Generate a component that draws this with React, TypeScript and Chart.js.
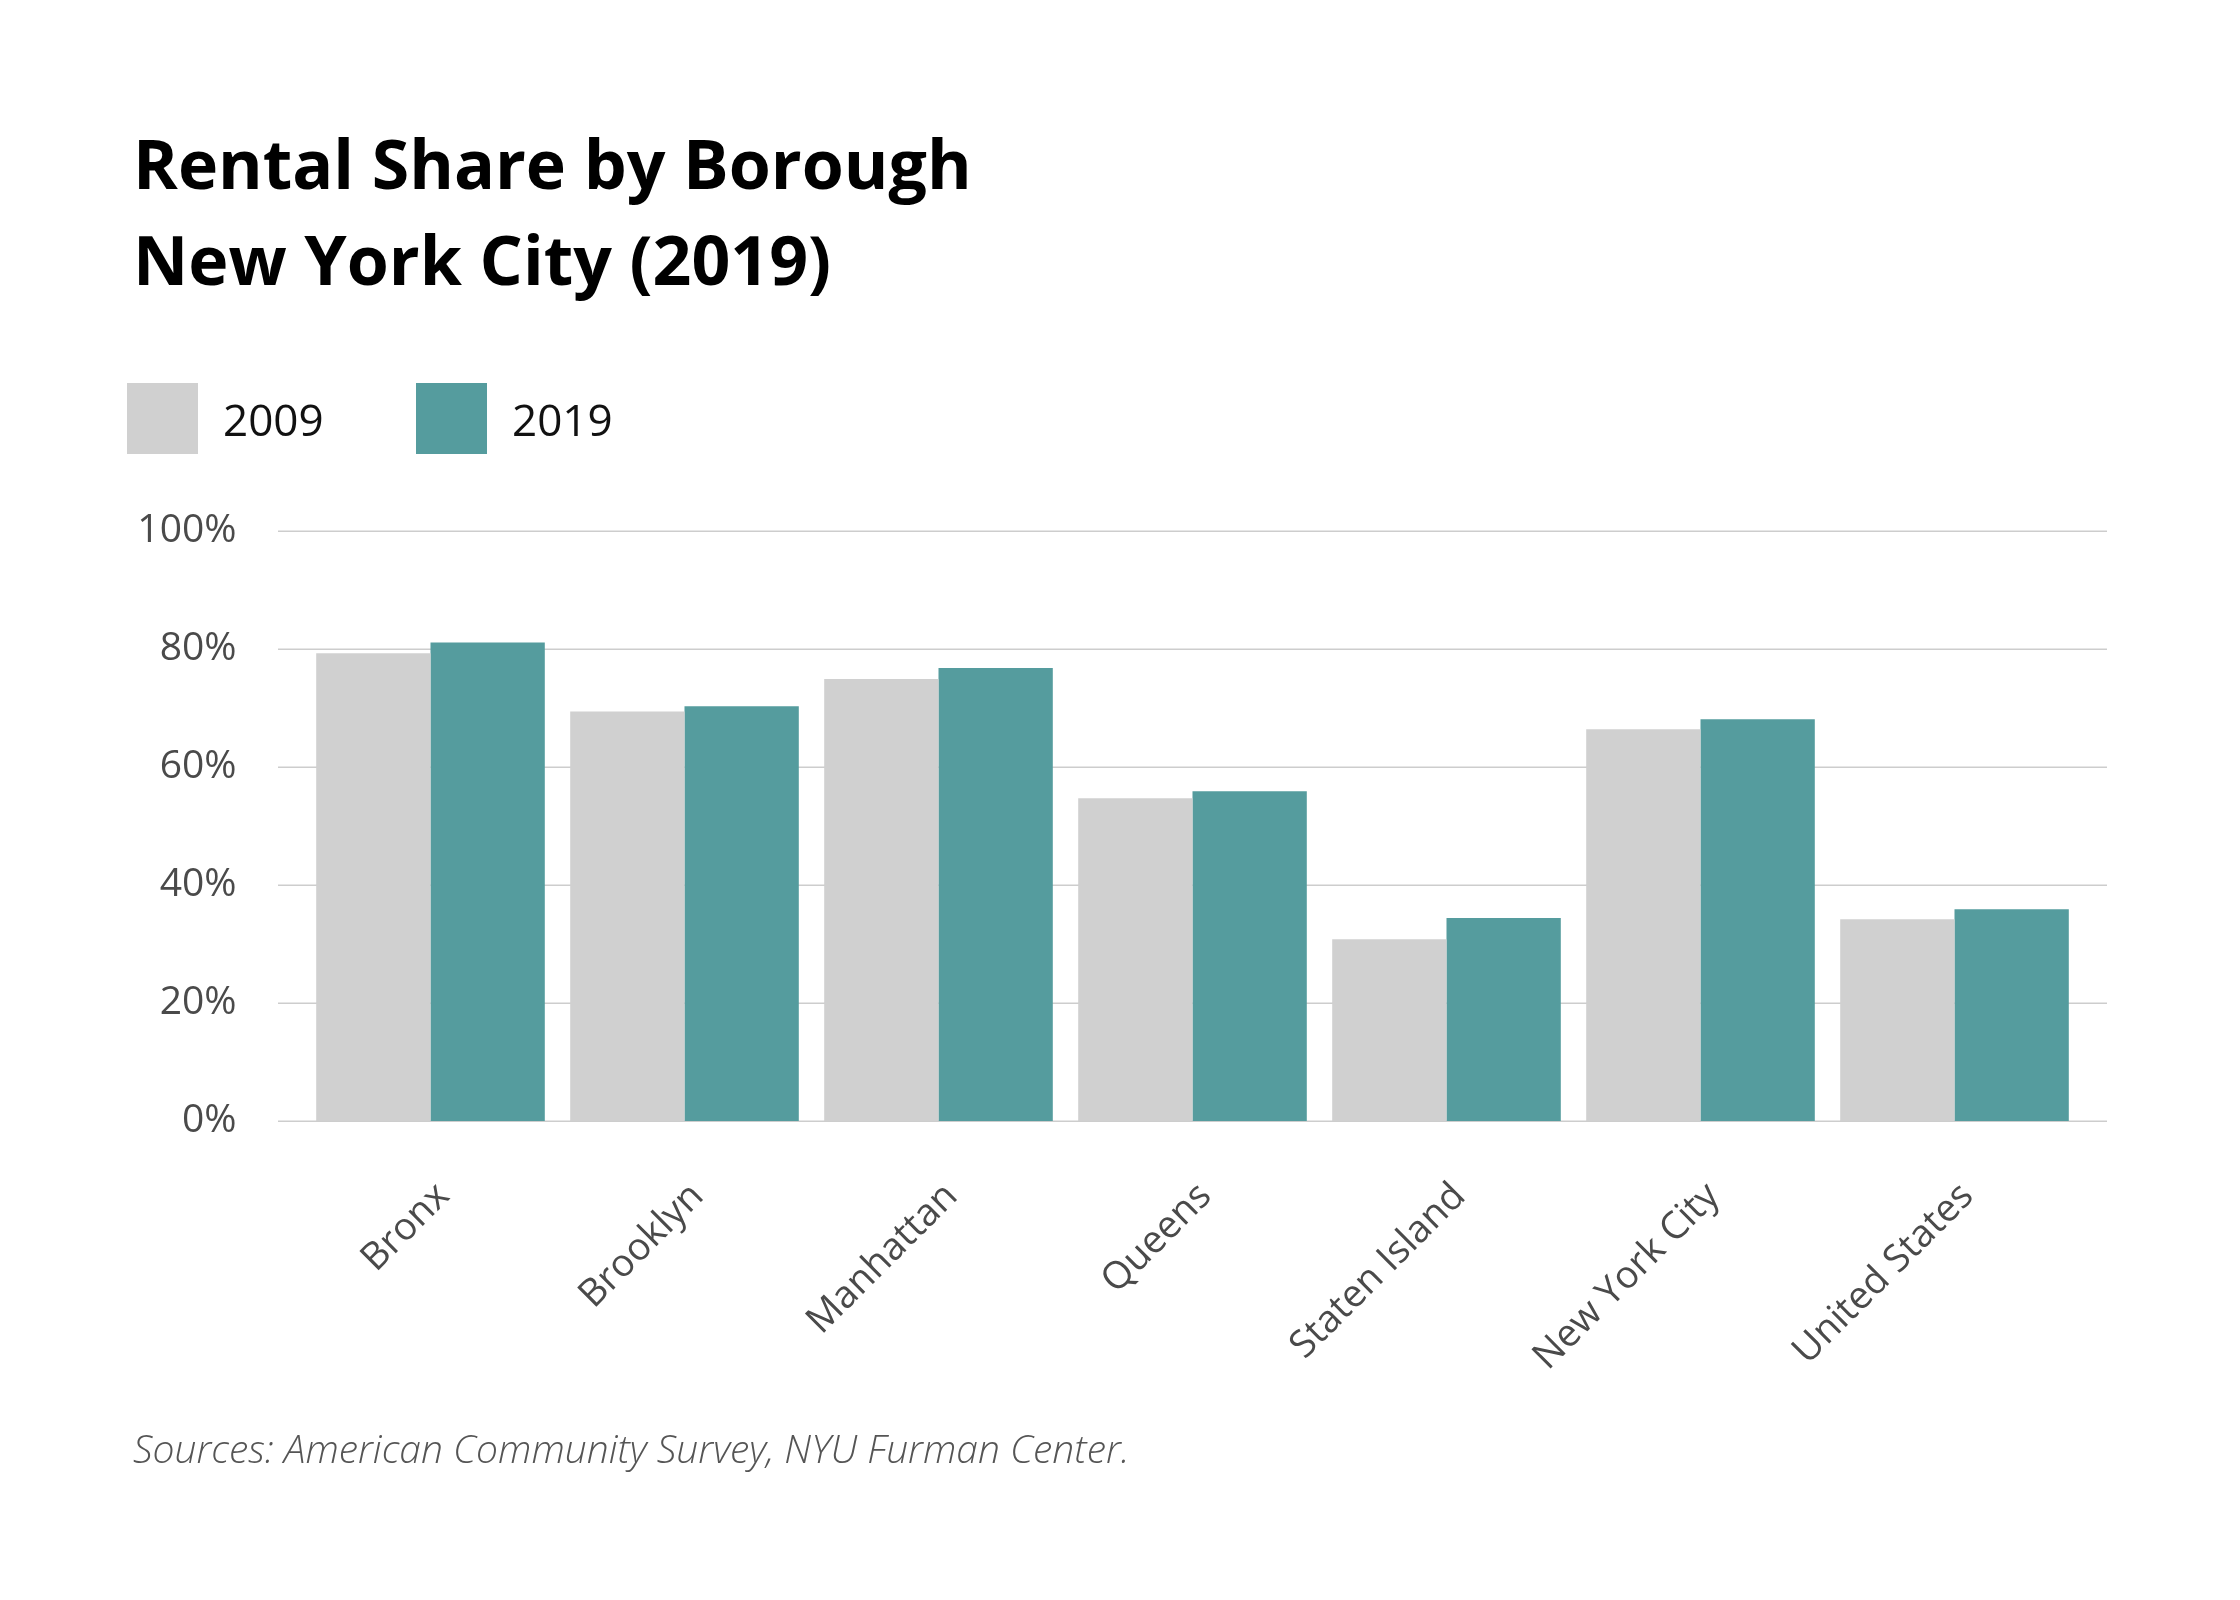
import React, { useEffect, useRef } from "react";
import { Chart, registerables } from "chart.js";

Chart.register(...registerables);

const categories = ["Bronx", "Brooklyn", "Manhattan", "Queens", "Staten Island", "New York City", "United States"];
const series2009 = [79.3, 69.4, 74.9, 54.7, 30.8, 66.4, 34.2];
const series2019 = [81.1, 70.3, 76.8, 55.9, 34.4, 68.1, 35.9];
const seriesLabels = ["2009", "2019"];
const seriesColors = ["#d0d0d0", "#559c9e"];
const yTicks = [0, 20, 40, 60, 80, 100];
const titleLines = ["Rental Share by Borough", "New York City (2019)"];
const sourceText = "Sources: American Community Survey, NYU Furman Center.";

const W = 2240;
const H = 1600;
const FONT = "'Open Sans', 'Noto Sans', sans-serif";

const decorPlugin = {
  id: "decor",
  beforeDatasetsDraw(chart: any) {
    const { ctx, chartArea, scales } = chart;
    const y = scales.y;
    ctx.save();
    ctx.strokeStyle = "#cdcdcd";
    ctx.lineWidth = 1.5;
    for (const t of yTicks) {
      const py = Math.round(y.getPixelForValue(t)) + 0.25;
      ctx.beginPath();
      ctx.moveTo(chartArea.left - 25.5, py);
      ctx.lineTo(chartArea.right + 25.5, py);
      ctx.stroke();
    }
    ctx.restore();
  },
  afterDraw(chart: any) {
    const { ctx } = chart;
    ctx.save();
    // Title
    ctx.fillStyle = "#000000";
    ctx.textAlign = "left";
    ctx.textBaseline = "alphabetic";
    ctx.font = `bold 68px ${FONT}`;
    titleLines.forEach((line, i) => {
      ctx.fillText(line, 133, 189 + i * 96);
    });
    // Legend
    chart.data.datasets.forEach((ds: any, i: number) => {
      const bx = 127 + i * 289;
      ctx.fillStyle = ds.backgroundColor;
      ctx.fillRect(bx, 383, 71, 71);
      ctx.fillStyle = "#111111";
      ctx.font = `400 44px ${FONT}`;
      ctx.textBaseline = "middle";
      ctx.fillText(ds.label, bx + 96, 423);
    });
    // Source
    ctx.fillStyle = "#555555";
    ctx.font = `italic 300 39px ${FONT}`;
    ctx.textBaseline = "alphabetic";
    ctx.fillText(sourceText, 133, 1463);
    ctx.restore();
  },
};

export default function App() {
  const ref = useRef<HTMLCanvasElement | null>(null);
  useEffect(() => {
    document.body.style.margin = "0";
    const canvas = ref.current!;
    const chart = new Chart(canvas, {
      type: "bar",
      data: {
        labels: categories,
        datasets: [
          { label: seriesLabels[0], data: series2009, backgroundColor: seriesColors[0], categoryPercentage: 0.9, barPercentage: 1.0 },
          { label: seriesLabels[1], data: series2019, backgroundColor: seriesColors[1], categoryPercentage: 0.9, barPercentage: 1.0 },
        ],
      },
      options: {
        responsive: false,
        animation: false,
        devicePixelRatio: 1,
        layout: { padding: { top: 531, left: 0, right: 158.5, bottom: 0 } },
        plugins: { legend: { display: false }, title: { display: false }, tooltip: { enabled: false } },
        scales: {
          x: {
            offset: true,
            grid: { display: false },
            border: { display: false },
            ticks: {
              minRotation: 45,
              maxRotation: 45,
              autoSkip: false,
              padding: 45,
              labelOffset: 13,
              color: "#4a4a4a",
              font: { family: FONT, size: 38 },
            },
            afterFit: (s: any) => {
              s.height = H - 1121;
            },
          },
          y: {
            min: 0,
            max: 100,
            grid: { display: false },
            border: { display: false },
            ticks: {
              stepSize: 20,
              padding: 59,
              color: "#4a4a4a",
              font: { family: FONT, size: 39 },
              callback: (v: any) => `${v}%`,
            },
            afterFit: (s: any) => {
              s.width = 303.5;
            },
          },
        },
      },
      plugins: [decorPlugin],
    });
    return () => chart.destroy();
  }, []);
  return <canvas ref={ref} width={W} height={H} style={{ display: "block", width: W, height: H }} />;
}
